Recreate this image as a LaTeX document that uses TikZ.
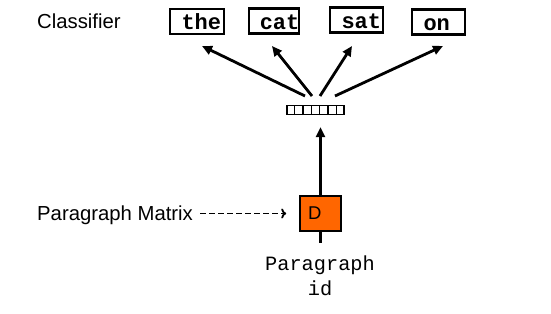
\documentclass[tikz,border=0pt]{standalone}
\usepackage{fontspec}
\setmainfont{Liberation Sans}
\setmonofont{Liberation Mono}
\usetikzlibrary{arrows.meta,calc}
\pgfdeclarelayer{bg}
\pgfsetlayers{bg,main}
\definecolor{dorange}{HTML}{FF6600}
\begin{document}
\begin{tikzpicture}[x=1pt,y=-1pt,
  wordbox/.style={draw, line width=2.2pt, inner xsep=0pt, inner ysep=0pt,
    minimum height=25pt, text height=17pt, text depth=0pt, align=left,
    font=\ttfamily\bfseries\fontsize{22}{22}\selectfont},
  arr/.style={line width=2.8pt, -{Triangle[length=10pt,width=9pt]}},
  label/.style={anchor=base west, inner sep=0pt, font=\fontsize{20.3}{21}\selectfont}]
\useasboundingbox (0,0) rectangle (551,313);
% labels
\node[label] (cls) at (37,29) {Classifier};
\node[label] (pm) at (37,220) {Paragraph Matrix};
% word boxes
\node[wordbox, text width=54pt] (the) at (197,21.5) {\hspace*{11.5pt}the};
\node[wordbox, text width=50.5pt] (cat) at (274,21) {\hspace*{11pt}cat};
\node[wordbox, text width=53pt] (sat) at (356.5,20) {\hspace*{11.5pt}sat};
\node[wordbox, text width=53pt] (on) at (438.5,22) {\hspace*{11.5pt}on};
% vector
\node[draw, line width=1.3pt, minimum width=57pt, minimum height=9pt, inner sep=0pt] (vec) at (315.5,110) {};
\foreach \i in {1,...,6}
  \draw[line width=1.3pt] ($(vec.south west)!\i/7!(vec.south east)$) -- ($(vec.north west)!\i/7!(vec.north east)$);
% D box
\node[draw, fill=dorange, line width=1.6pt, minimum height=35pt, inner sep=0pt,
  text width=41pt, align=left, font=\fontsize{18.5}{18.5}\selectfont] (D) at (320.5,213.5) {\hspace*{8pt}D};
% paragraph id
\node[anchor=base, inner sep=0pt, align=center, font=\ttfamily\fontsize{20.3}{25}\selectfont] (pid) at (320,295) {Paragraph\\id};
% arrows to words
\coordinate (t1) at (305,96); \coordinate (h1) at (202,46);
\coordinate (t2) at (312,96); \coordinate (h2) at (272,46);
\coordinate (t3) at (320,96); \coordinate (h3) at (352,46);
\coordinate (t4) at (335,96); \coordinate (h4) at (443,46);
\draw[arr] (t1) -- (h1);
\draw[arr] (t2) -- (h2);
\draw[arr] (t3) -- (h3);
\draw[arr] (t4) -- (h4);
% vertical arrow and stub (behind the D box)
\coordinate (dend) at (320.5,243);
\begin{pgfonlayer}{bg}
\draw[arr] (D.north) -- ($(D.north |- vec.south)+(0,12)$);
\draw[line width=2.8pt] (D.south) -- (dend);
\end{pgfonlayer}
% dashed arrow
\draw[line width=1.8pt, dash pattern=on 6pt off 3pt, -{To[length=5pt,width=10pt]}]
  ($(pm.east |- D.west)+(7,0)$) -- ($(D.west)+(-13,0)$);
\end{tikzpicture}
\end{document}
